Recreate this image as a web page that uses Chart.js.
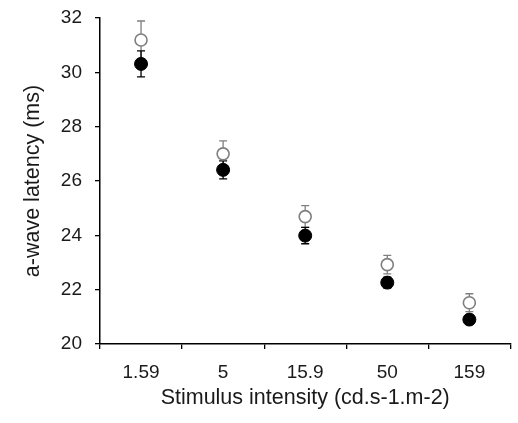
<!DOCTYPE html>
<html>
<head>
<meta charset="utf-8">
<script src="https://cdn.jsdelivr.net/npm/chart.js@4"></script>
<style>
  html, body { margin: 0; padding: 0; background: #fff; }
  #wrap { width: 518px; height: 423px; }
</style>
</head>
<body>
<div id="wrap"><canvas id="chart" width="518" height="423"></canvas></div>
<script>
// data
const intensities = ["1.59", "5", "15.9", "50", "159"];
const openMeans = [31.19, 27.0, 24.69, 22.92, 21.52];
const openErr = [0.7, 0.48, 0.4, 0.34, 0.33];
const filledMeans = [30.31, 26.41, 23.99, 22.26, 20.9];
const filledErr = [0.48, 0.33, 0.3, 0.2, 0.15];
const yTicks = [20, 22, 24, 26, 28, 30, 32];

const errorBars = {
  id: "errorBars",
  beforeDatasetsDraw(chart) {
    const ctx = chart.ctx;
    const y = chart.scales.y;
    chart.data.datasets.forEach((ds, i) => {
      const meta = chart.getDatasetMeta(i);
      ctx.save();
      ctx.strokeStyle = ds.errColor;
      ctx.lineWidth = 1.3;
      meta.data.forEach((pt, j) => {
        const top = y.getPixelForValue(ds.data[j] + ds.err[j]);
        const bot = y.getPixelForValue(ds.data[j] - ds.err[j]);
        ctx.beginPath();
        ctx.moveTo(pt.x, top);
        ctx.lineTo(pt.x, bot);
        ctx.moveTo(pt.x - 4, top);
        ctx.lineTo(pt.x + 4, top);
        ctx.moveTo(pt.x - 4, bot);
        ctx.lineTo(pt.x + 4, bot);
        ctx.stroke();
      });
      ctx.restore();
    });
  }
};

new Chart(document.getElementById("chart"), {
  type: "line",
  data: {
    labels: intensities,
    datasets: [
      {
        data: openMeans,
        err: openErr,
        errColor: "#7f7f7f",
        showLine: false,
        pointRadius: 6,
        pointBorderWidth: 1.6,
        pointBorderColor: "#7f7f7f",
        pointBackgroundColor: "#ffffff",
        order: 1
      },
      {
        data: filledMeans,
        err: filledErr,
        errColor: "#000000",
        showLine: false,
        pointRadius: 6.5,
        pointBorderWidth: 1,
        pointBorderColor: "#000000",
        pointBackgroundColor: "#000000",
        order: 0
      }
    ]
  },
  options: {
    responsive: false,
    animation: false,
    layout: { padding: { top: 18, right: 1, left: 0, bottom: 0 } },
    plugins: {
      legend: { display: false },
      tooltip: { enabled: false }
    },
    scales: {
      x: {
        offset: true,
        grid: {
          offset: true,
          drawOnChartArea: false,
          drawTicks: true,
          tickLength: 5,
          color: "#000",
          lineWidth: 1.3
        },
        border: { display: true, color: "#000", width: 1.5 },
        ticks: {
          color: "#1a1a1a",
          font: { family: "Liberation Sans", size: 19 },
          padding: 12
        },
        title: {
          display: true,
          text: "Stimulus intensity (cd.s-1.m-2)",
          color: "#1a1a1a",
          font: { family: "Liberation Sans", size: 21.5 },
          padding: { top: 0, bottom: 12 }
        },
        afterFit(axis) {
          axis.height = 79;
          axis.paddingLeft = 0;
          axis.paddingRight = 0;
        }
      },
      y: {
        min: 20,
        max: 32,
        afterBuildTicks(axis) { axis.ticks = yTicks.map(v => ({ value: v })); },
        grid: {
          drawOnChartArea: false,
          drawTicks: true,
          tickLength: 5,
          color: "#000",
          lineWidth: 1.3
        },
        border: { display: true, color: "#000", width: 1.5 },
        ticks: {
          color: "#1a1a1a",
          font: { family: "Liberation Sans", size: 19 },
          padding: 13
        },
        title: {
          display: true,
          text: "a-wave latency (ms)",
          color: "#1a1a1a",
          font: { family: "Liberation Sans", size: 21.5 },
          padding: { top: 20, bottom: 0 }
        },
        afterFit(axis) {
          axis.width = 100;
          axis.paddingTop = 0;
          axis.paddingBottom = 0;
        }
      }
    }
  },
  plugins: [errorBars]
});
</script>
</body>
</html>
